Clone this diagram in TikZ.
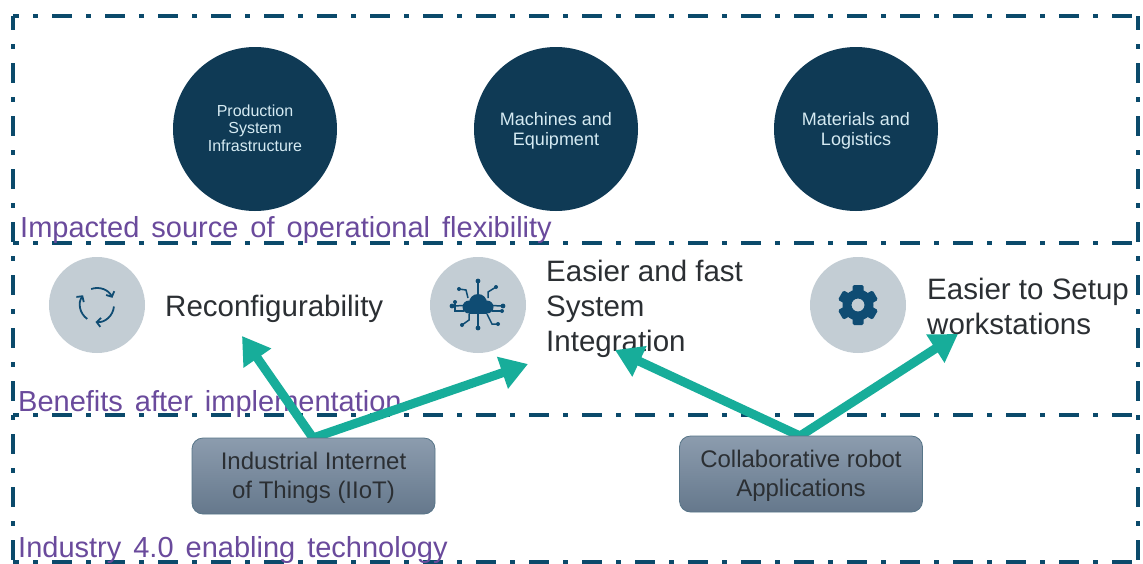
\documentclass[tikz,border=0pt]{standalone}
\usepackage{fontspec}
\setmainfont{Liberation Sans}
\usetikzlibrary{arrows.meta,shapes.geometric}
\definecolor{navy}{HTML}{0F3A55}
\definecolor{frame}{HTML}{0B4A6B}
\definecolor{lblue}{HTML}{C3CDD4}
\definecolor{teal2}{HTML}{17AD9A}
\definecolor{purp}{HTML}{6A4A9C}
\definecolor{ink}{HTML}{2B2F33}
\definecolor{icon}{HTML}{0F4C73}
\definecolor{boxtop}{HTML}{8C9CAE}
\definecolor{boxbot}{HTML}{65788C}
\definecolor{pale}{HTML}{D5EAF2}
\tikzset{
 frameline/.style={draw=frame,line width=4.5pt,dash pattern=on 20pt off 14pt on 5pt off 14pt},
 bigcircle/.style={circle,fill=navy,minimum size=164pt,inner sep=0pt,text=pale,align=center},
 lightcircle/.style={circle,fill=lblue,minimum size=96pt,inner sep=0pt},
 bene/.style={text=ink,font=\fontsize{29.5}{35}\selectfont,align=left,anchor=west,inner sep=0pt},
 seclabel/.style={text=purp,font=\fontsize{29}{31}\selectfont,anchor=west,inner sep=0pt,execute at begin node={\spaceskip=12pt\relax}},
 techbox/.style={draw=navy!70,line width=0.8pt,rounded corners=11pt,minimum width=243pt,minimum height=76pt,top color=boxtop,bottom color=boxbot,text=ink,font=\fontsize{24}{29}\selectfont,align=center,inner sep=0pt},
 bluearrow/.style={draw=teal2,line width=9pt,-{Triangle[length=27pt,width=32pt]}},
 iconline/.style={draw=icon,line width=1.8pt},
 cyclearrow/.style={iconline,-{Straight Barb[length=4pt,width=9pt]}},
 netline/.style={draw=icon,line width=1.5pt}
}
\begin{document}
\begin{tikzpicture}[x=1pt,y=-1pt]
\useasboundingbox (0,0) rectangle (1143,563);
\fill[white] (0,0) rectangle (1143,563);
% frames
\draw[frameline,dash phase=14pt] (13,16) -- (1138,16);
\draw[frameline,dash phase=6pt] (13,16) -- (13,563);
\draw[frameline,dash phase=6pt] (1138,16) -- (1138,560);
\draw[frameline,dash phase=14pt] (13,243) -- (1138,243);
\draw[frameline,dash phase=14pt] (13,415) -- (1138,415);
\draw[frameline,dash phase=14pt] (13,562) -- (1138,562);
% dark circles
\node[bigcircle,font=\fontsize{16}{17.5}\selectfont] (infra) at (255,129) {Production\\System\\Infrastructure\rule[-2pt]{0pt}{2pt}};
\node[bigcircle,font=\fontsize{18}{20}\selectfont] (mach) at (556,129) {\rule{0pt}{17pt}Machines and\\Equipment};
\node[bigcircle,font=\fontsize{18}{20}\selectfont] (mat) at (856,129) {\rule{0pt}{17pt}Materials and\\Logistics};
% light circles
\node[lightcircle] (c1) at (97,305) {};
\node[lightcircle] (c2) at (478,305) {};
\node[lightcircle] (c3) at (858,305) {};
% icon 1 cycle (y axis points down, so positive angles turn clockwise)
\begin{scope}[shift={(c1.center)}]
 \draw[cyclearrow] (-110:17) arc (-110:-25:17);
 \draw[cyclearrow] (5:17) arc (5:95:17);
 \draw[cyclearrow] (125:17) arc (125:215:17);
\end{scope}
% icon 2 cloud network
\begin{scope}[shift={(c2.center)}]
 \foreach \c/\d in {0/-24, 0/23, 25/1, -26/1}{
  \draw[netline] (0,0) -- (\c,\d);
  \fill[icon] (\c,\d) circle (2.4);}
 \fill[icon] (-9,2) circle (6.5) (0,-2) circle (9) (9,2) circle (6.5);
 \fill[icon] (-9,2) rectangle (9,8.5);
 \foreach \a/\b/\c/\d/\e/\f in {-10/-7/-12/-15/-19/-16, 10/-7/10/-13/18/-18, -9/9/-9/15/-16/20, 9/9/14/19/20/19, -14/6/-23/6/-23/-3, 14/6/24/6/24/6}{
  \draw[netline] (\a,\b) -- (\c,\d) -- (\e,\f);
  \fill[icon] (\e,\f) circle (2);}
\end{scope}
% icon 3 gear
\begin{scope}[shift={(c3.center)}]
 \foreach \r in {0,60,...,300}{\fill[icon,rotate=\r,rounded corners=1.5pt] (-5.5,-20) rectangle (5.5,-10);}
 \fill[icon,even odd rule] (0,0) circle (15.5) (0,0) circle (6.5);
\end{scope}
% benefits
\node[bene] (b1) at (165,308.5) {Reconfigurability};
\node[bene] (b2) at (546,309) {Easier and fast\\System\\Integration};
\node[bene] (b3) at (927,306) {Easier to Setup\\workstations};
% section labels
\node[seclabel] (s1) at (20,230) {Impacted source of operational flexibility};
\node[seclabel] (s2) at (18,404) {Benefits after implementation};
\node[seclabel] (s3) at (18,550) {Industry 4.0 enabling technology};
% connectors
\coordinate (t1) at (313,438);
\coordinate (t2) at (800,436);
\coordinate (a1) at (242,336);
\coordinate (a2) at (528,364);
\coordinate (a3) at (615,350);
\coordinate (a4) at (958,334);
\draw[bluearrow] (t1) -- (a1);
\draw[bluearrow] (t1) -- (a2);
\draw[bluearrow] (t2) -- (a3);
\draw[bluearrow] (t2) -- (a4);
% tech boxes
\node[techbox] (iiot) at (313.5,476) {\rule{0pt}{21pt}Industrial Internet\\of Things (IIoT)};
\node[techbox] (cobot) at (801,474) {\rule{0pt}{21pt}Collaborative robot\\Applications};
\end{tikzpicture}
\end{document}
